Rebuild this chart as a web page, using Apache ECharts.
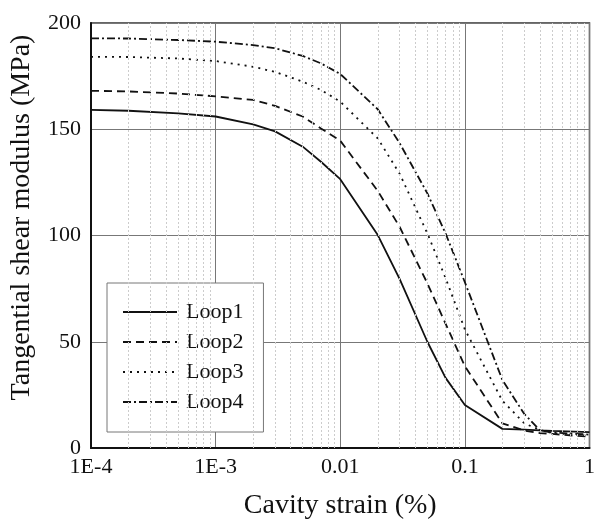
<!DOCTYPE html>
<html>
<head>
<meta charset="utf-8">
<script src="https://cdn.jsdelivr.net/npm/echarts@6/dist/echarts.min.js"></script>
<style>
    html, body { margin: 0; padding: 0; background: #fff; }
    #chart { width: 598px; height: 525px; }
</style>
</head>
<body>
<div id="chart"></div>
<script>
    // strain (%) sampling points
    var strain = [1e-4, 2e-4, 5e-4, 1e-3, 2e-3, 3e-3, 5e-3, 7e-3, 0.01, 0.02, 0.03, 0.05, 0.07, 0.1, 0.2, 0.3, 0.4, 0.5, 1];
    var loop1 = [159.1, 158.7, 157.5, 156.0, 152.3, 149.0, 141.8, 134.7, 126.5, 100.2, 79.5, 50.0, 33.0, 20.2, 9.0, 8.6, 8.3, 8.1, 7.5];
    var loop2 = [168.1, 167.8, 166.8, 165.5, 163.8, 161.0, 156.0, 150.4, 144.6, 121.0, 104.0, 77.5, 58.5, 38.5, 11.6, 8.2, 7.0, 6.6, 5.3];
    var loop3 = [184.1, 184.0, 183.3, 182.1, 179.4, 177.0, 172.4, 168.5, 163.0, 145.7, 129.0, 101.0, 80.0, 55.8, 22.2, 11.6, 8.5, 7.0, 5.8];
    var loop4 = [192.8, 192.7, 192.0, 191.2, 189.6, 188.1, 184.5, 181.0, 176.0, 159.4, 143.4, 119.8, 101.0, 78.0, 32.0, 16.0, 8.3, 7.3, 6.3];
    var seriesNames = ['Loop1', 'Loop2', 'Loop3', 'Loop4'];
    var xTickLabels = ['1E-4', '1E-3', '0.01', '0.1', '1'];

    var font = '"Liberation Serif", "Times New Roman", serif';

    function pairs(ys) {
        return strain.map(function (x, i) { return [x, ys[i]]; });
    }

    // minor (2..9) gridlines inside each decade
    var minorLines = [];
    for (var d = -4; d < 0; d++) {
        for (var k = 2; k <= 9; k++) {
            minorLines.push({ xAxis: k * Math.pow(10, d) });
        }
    }

    var chart = echarts.init(document.getElementById('chart'));
    var lineBase = { type: 'line', symbol: 'none', showSymbol: false, smooth: false, z: 3, itemStyle: { color: '#111' } };

    var option = {
        animation: false,
        grid: {
            left: 90, right: 1.5, top: 23, bottom: 77,
            show: true, borderColor: '#333', borderWidth: 1.5
        },
        legend: {
            data: seriesNames,
            orient: 'vertical',
            left: 107, top: 283,
            padding: [18, 20, 19, 15],
            itemGap: 8,
            itemWidth: 54,
            itemHeight: 14,
            itemStyle: { opacity: 0 },
            backgroundColor: '#fff',
            borderColor: '#777',
            borderWidth: 1,
            borderRadius: 0,
            textStyle: { fontFamily: font, fontSize: 22, color: '#111', padding: [0, 0, 0, 4] }
        },
        xAxis: {
            type: 'log',
            logBase: 10,
            min: 1e-4,
            max: 1,
            name: 'Cavity strain (%)',
            nameLocation: 'middle',
            nameGap: 44,
            nameTextStyle: { fontFamily: font, fontSize: 28, color: '#111' },
            axisLine: { lineStyle: { color: '#111', width: 2 } },
            axisTick: { show: false },
            axisLabel: {
                fontFamily: font, fontSize: 22, color: '#111', margin: 8,
                formatter: function (v) {
                    return xTickLabels[Math.round(Math.log10(v)) + 4];
                }
            },
            splitLine: { show: true, lineStyle: { color: '#777', width: 1 } }
        },
        yAxis: {
            type: 'value',
            min: 0,
            max: 200,
            interval: 50,
            name: 'Tangential shear modulus (MPa)',
            nameLocation: 'middle',
            nameGap: 55,
            nameTextStyle: { fontFamily: font, fontSize: 28, color: '#111', padding: [0, 0, 0, 36] },
            axisLine: { show: true, lineStyle: { color: '#111', width: 2 } },
            axisTick: { show: false },
            axisLabel: { fontFamily: font, fontSize: 22, color: '#111', margin: 10 },
            splitLine: { show: true, lineStyle: { color: '#777', width: 1 } }
        },
        series: [
            {
                name: 'minor',
                type: 'line',
                data: [[1e-4, 0]],
                symbol: 'none',
                lineStyle: { width: 0 },
                silent: true,
                z: 1,
                markLine: {
                    silent: true,
                    symbol: 'none',
                    precision: 8,
                    label: { show: false },
                    lineStyle: { color: '#cccccc', width: 1, type: [2, 2] },
                    data: minorLines
                }
            },
            Object.assign({}, lineBase, {
                name: seriesNames[0], data: pairs(loop1),
                lineStyle: { color: '#111', width: 1.8, type: 'solid' }
            }),
            Object.assign({}, lineBase, {
                name: seriesNames[1], data: pairs(loop2),
                lineStyle: { color: '#111', width: 1.8, type: [8, 5] }
            }),
            Object.assign({}, lineBase, {
                name: seriesNames[2], data: pairs(loop3),
                lineStyle: { color: '#111', width: 1.8, type: [2, 5] }
            }),
            Object.assign({}, lineBase, {
                name: seriesNames[3], data: pairs(loop4),
                lineStyle: { color: '#111', width: 1.8, type: [8, 3, 2, 3] }
            })
        ]
    };
    chart.setOption(option);
</script>
</body>
</html>
